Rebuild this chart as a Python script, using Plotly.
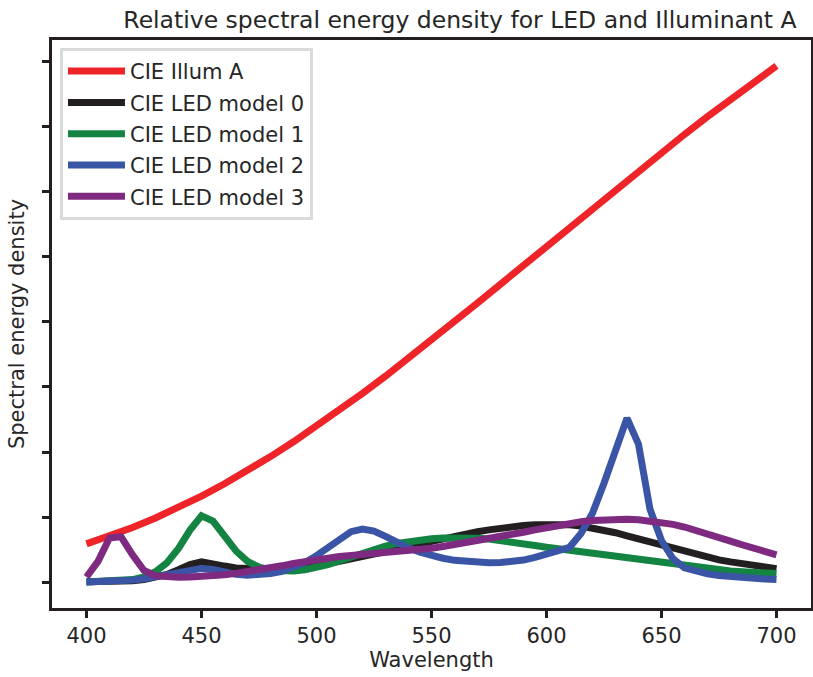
import plotly.graph_objects as go

wl_a = list(range(400, 701, 10))
illum_a = [14.71, 17.68, 20.99, 24.67, 28.70, 33.09, 37.81, 42.87, 48.24, 53.91,
           59.86, 66.06, 72.50, 79.13, 85.95, 92.91, 100.00, 107.18, 114.44, 121.73,
           129.04, 136.35, 143.62, 150.84, 157.98, 165.03, 171.96, 178.77, 185.43,
           191.93, 198.26]

wl = list(range(400, 701, 5))
led0 = [0.2, 0.2, 0.3, 0.4, 0.6, 1.0, 1.8, 3.0, 4.8, 6.8,
        7.8, 7.3, 6.2, 5.5, 5.2, 5.0, 5.0, 5.2, 5.6, 6.0,
        6.5, 7.2, 8.0, 8.8, 9.8, 10.8, 11.8, 12.8, 13.8, 14.8,
        15.8, 16.8, 17.7, 18.6, 19.4, 20.1, 20.8, 21.3, 21.8, 22.1,
        22.3, 22.3, 22.1, 21.6, 20.9, 20.0, 19.0, 17.8, 16.6, 15.3,
        14.0, 12.8, 11.6, 10.5, 9.5, 8.6, 7.8, 7.0, 6.3, 5.7, 5.2]
led1 = [0.1, 0.2, 0.3, 0.6, 1.0, 2.0, 4.0, 7.5, 13.0, 20.0,
        25.5, 23.5, 17.5, 12.0, 8.0, 5.8, 4.6, 4.2, 4.3, 4.8,
        5.6, 6.8, 8.2, 9.8, 11.3, 12.7, 13.9, 14.9, 15.7, 16.3,
        16.7, 17.0, 17.1, 17.1, 16.9, 16.6, 16.1, 15.5, 14.8, 14.1,
        13.4, 12.8, 12.2, 11.6, 11.0, 10.4, 9.8, 9.2, 8.6, 8.0,
        7.5, 6.9, 6.3, 5.7, 5.2, 4.7, 4.3, 4.0, 3.7, 3.5, 3.3]
led2 = [0.1, 0.2, 0.3, 0.5, 0.8, 1.3, 2.0, 2.8, 3.6, 4.6,
        5.3, 4.9, 3.8, 3.0, 2.7, 2.8, 3.3, 4.2, 5.6, 7.6,
        10.2, 13.3, 16.6, 19.4, 20.4, 19.6, 17.6, 15.3, 13.2, 11.5,
        10.2, 9.2, 8.4, 7.9, 7.6, 7.5, 7.6, 7.9, 8.5, 9.5,
        10.8, 12.0, 13.4, 18.7, 26.5, 38.0, 51.0, 63.0, 53.0, 28.0,
        16.0, 9.0, 5.5, 4.0, 3.2, 2.6, 2.1, 1.7, 1.4, 1.2, 1.0]
led3 = [2.0, 8.0, 17.0, 17.5, 10.5, 4.5, 2.5, 2.0, 1.9, 2.0,
        2.1, 2.5, 2.9, 3.4, 4.0, 4.7, 5.5, 6.3, 7.2, 8.0,
        8.8, 9.4, 9.9, 10.3, 10.6, 10.9, 11.2, 11.5, 11.9, 12.4,
        13.0, 13.7, 14.4, 15.1, 15.8, 16.6, 17.4, 18.3, 19.2, 20.1,
        21.0, 21.8, 22.6, 23.2, 23.7, 24.0, 24.2, 24.2, 24.0, 23.6,
        23.0, 22.2, 21.2, 20.0, 18.7, 17.2, 15.8, 14.4, 13.0, 11.7, 10.5]

x_ticks = [400, 450, 500, 550, 600, 650, 700]
y_ticks = [0, 25, 50, 75, 100, 125, 150, 175, 200]

series = [
    ("CIE Illum A", wl_a, illum_a, "#ee2428"),
    ("CIE LED model 0", wl, led0, "#231f20"),
    ("CIE LED model 1", wl, led1, "#138441"),
    ("CIE LED model 2", wl, led2, "#3a55a5"),
    ("CIE LED model 3", wl, led3, "#7f2a81"),
]

fig = go.Figure()
for i, (name, xs, ys, col) in enumerate(series):
    fig.add_trace(go.Scatter(x=xs, y=ys, mode="lines", name=name,
                             legendgroup=f"g{i}",
                             line=dict(color=col, width=7)))

font = "DejaVu Sans"
fig.update_layout(
    width=813, height=677,
    margin=dict(l=52, r=2, t=40, b=69, autoexpand=False),
    paper_bgcolor="white", plot_bgcolor="white",
    font=dict(family=font, size=21, color="#262626"),
    title=dict(text="Relative spectral energy density for LED and Illuminant A",
               x=0.5658, xanchor="center", y=0.9705, yanchor="middle",
               automargin=False,
               font=dict(family=font, size=23.5, color="#262626")),
    showlegend=True,
    legend=dict(x=0.0105, y=0.986, xanchor="left", yanchor="top",
                bgcolor="white", bordercolor="#d9dadb", borderwidth=3,
                font=dict(family=font, size=21, color="#262626"),
                tracegroupgap=1, itemwidth=57),
    xaxis=dict(range=[385, 715], tickvals=x_ticks, ticks="outside",
               ticklen=7, tickwidth=3, tickcolor="#231f20", automargin=False,
               showline=True, linewidth=3, linecolor="#231f20", mirror=True,
               showgrid=False, zeroline=False,
               title=dict(text="Wavelength", standoff=6,
                          font=dict(family=font, size=21))),
    yaxis=dict(range=[-9.9, 208.2], tickvals=y_ticks, ticks="outside",
               ticklen=7, tickwidth=3, tickcolor="#231f20", automargin=False,
               showticklabels=False,
               showline=True, linewidth=3, linecolor="#231f20", mirror=True,
               showgrid=False, zeroline=False,
               title=dict(text="Spectral energy density", standoff=12,
                          font=dict(family=font, size=21))),
)

fig.write_html("out.html",
               config={"displayModeBar": False},
               post_script="document.body.style.margin='0';document.body.style.overflow='hidden';")
